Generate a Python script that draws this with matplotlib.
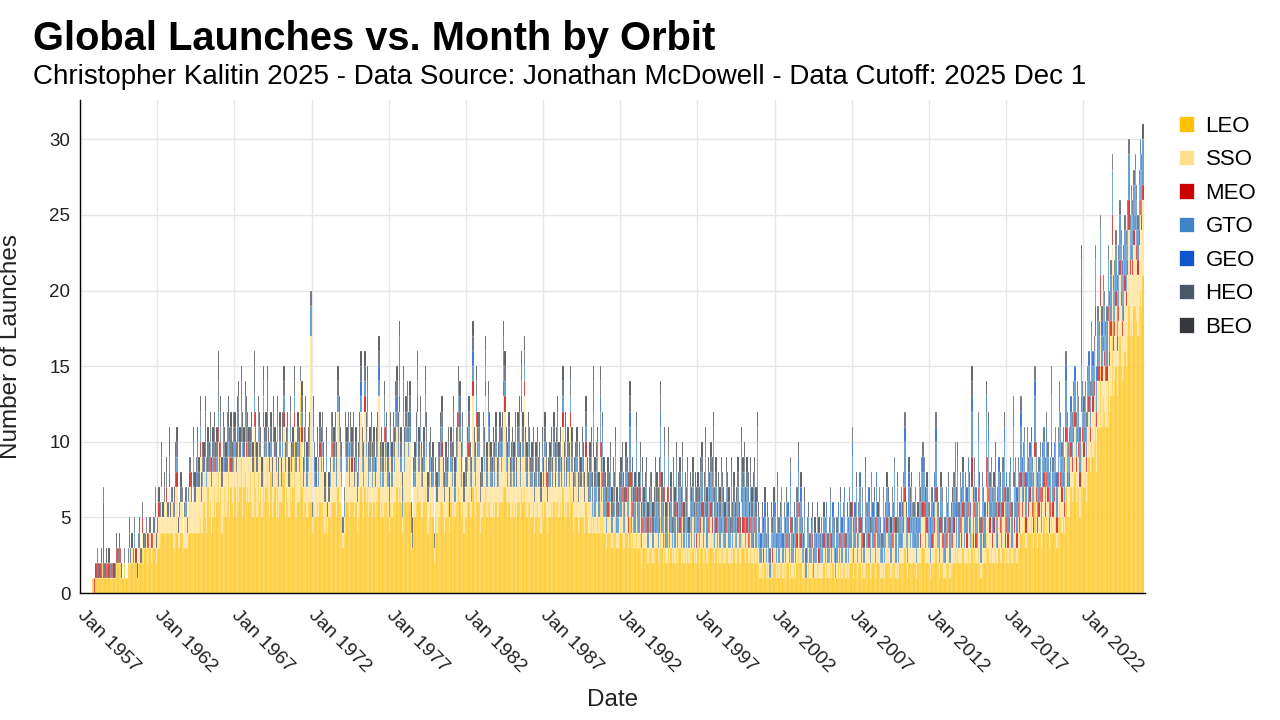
import numpy as np
import matplotlib.pyplot as plt
from matplotlib.patches import Patch

plt.rcParams['font.family'] = ['Liberation Sans', 'DejaVu Sans']

# monthly launch counts, one row per year (Jan..Dec), 1957 to 2025
leo = [
    0,0,0,0,0,0,0,0,0,1,1,0,
    1,1,1,1,1,2,1,1,1,1,1,1,
    1,1,1,1,2,2,2,2,1,1,2,1,
    1,2,2,2,2,2,2,2,1,2,2,2,
    3,2,3,3,2,3,3,2,3,3,3,2,
    3,3,4,4,4,4,4,4,4,4,4,4,
    3,3,4,4,3,3,4,4,3,3,3,3,
    4,4,4,4,4,4,4,4,4,5,4,4,
    6,5,4,7,5,6,4,5,7,5,6,8,
    6,7,4,5,7,5,6,8,5,7,6,5,
    7,5,8,6,7,9,5,7,8,6,7,6,
    8,6,5,9,7,5,8,6,7,5,9,6,
    7,9,6,5,8,5,6,7,5,8,5,6,
    6,8,8,5,7,6,5,9,6,7,10,5,
    5,6,6,13,7,5,6,6,5,6,6,6,
    4,6,5,5,6,5,6,6,6,5,4,6,
    4,5,5,6,6,6,6,5,7,6,6,5,
    3,4,6,6,6,5,6,6,6,5,6,4,
    5,6,7,6,5,7,6,7,5,6,6,5,
    6,5,6,6,7,5,6,5,6,6,6,5,
    4,6,5,6,6,6,7,6,7,6,4,7,
    6,6,6,6,6,3,3,5,5,6,7,6,
    6,5,5,6,7,6,4,5,6,5,5,2,
    5,4,5,5,6,6,5,4,5,5,6,4,
    6,5,6,5,6,6,7,6,5,6,4,5,
    5,6,6,5,5,7,6,5,7,6,6,4,
    5,6,6,7,5,6,6,5,5,6,5,6,
    5,5,6,6,6,7,7,6,5,6,5,5,
    6,5,6,5,6,6,5,7,6,7,6,5,
    6,6,5,5,6,4,5,6,5,5,4,6,
    5,6,5,4,5,5,6,5,6,5,6,6,
    5,6,5,7,5,6,5,6,5,7,6,4,
    5,5,5,4,5,5,5,5,4,6,5,4,
    4,5,4,6,4,4,5,4,6,4,5,4,
    4,3,4,4,4,3,4,4,5,3,3,4,
    4,4,3,3,4,4,3,5,3,4,3,3,
    4,3,3,4,2,3,3,3,3,2,3,3,
    3,2,3,3,3,2,3,5,3,2,4,2,
    2,4,2,3,2,3,2,3,2,3,3,2,
    3,2,3,2,3,2,3,2,3,2,3,2,
    3,2,3,3,2,3,3,2,3,3,3,3,
    4,2,3,2,3,2,3,3,2,2,3,3,
    2,2,3,2,3,2,2,3,2,2,4,3,
    3,2,3,2,2,3,2,2,3,2,4,2,
    1,1,2,1,2,1,2,1,1,2,1,2,
    2,1,2,1,2,2,1,2,1,2,2,1,
    2,1,1,2,1,2,3,2,2,1,1,2,
    1,1,2,1,1,2,1,1,1,2,1,1,
    1,1,2,1,2,1,1,2,1,2,1,1,
    1,2,1,2,1,2,2,1,2,1,2,2,
    3,1,2,2,1,2,2,1,2,1,2,2,
    2,2,1,2,2,2,1,2,2,2,1,1,
    2,1,2,2,2,2,1,2,2,2,1,2,
    1,2,2,2,2,3,2,1,2,2,2,2,
    2,2,1,2,2,2,3,3,3,2,2,2,
    2,1,2,2,2,3,2,2,1,2,2,1,
    1,2,2,2,1,2,2,2,3,2,3,2,
    2,2,3,2,2,2,3,2,2,4,2,3,
    2,2,3,2,1,2,2,2,4,3,3,2,
    3,2,2,3,2,2,3,2,2,3,3,2,
    3,2,3,3,2,4,3,3,2,3,3,4,
    4,4,5,3,5,4,4,5,4,3,6,4,
    3,4,4,3,4,5,4,5,4,3,4,6,
    4,4,5,3,5,6,5,4,5,4,7,5,
    5,5,7,6,7,8,6,7,7,5,10,7,
    7,8,6,8,9,8,10,9,10,13,8,11,
    11,15,11,13,12,11,11,14,12,13,18,13,
    14,15,13,15,17,15,14,15,16,15,17,19,
    17,18,17,19,19,18,17,19,20,19,21,0,
]

sso = [
    0,0,0,0,0,0,0,0,0,0,0,0,
    0,0,0,0,0,0,0,0,0,0,0,0,
    0,0,0,0,0,0,0,0,0,0,0,0,
    0,0,1,0,1,0,1,0,0,1,1,0,
    1,1,0,1,1,0,1,1,0,1,2,1,
    1,2,1,3,1,2,1,2,1,3,1,2,
    2,2,3,3,1,2,2,2,1,2,2,1,
    2,3,2,2,3,2,3,3,3,4,2,3,
    2,4,3,1,3,2,3,3,1,3,2,2,
    2,2,3,3,1,3,2,1,3,1,2,3,
    2,3,1,4,2,1,4,2,2,3,2,3,
    1,3,3,2,2,3,2,3,2,2,2,3,
    2,2,3,3,1,2,4,2,3,2,2,3,
    1,1,3,3,2,3,2,1,2,2,1,3,
    3,3,2,1,3,2,2,4,2,2,3,11,
    1,4,2,2,3,2,3,2,3,3,2,2,
    1,1,2,3,3,2,3,2,5,4,2,2,
    1,1,3,2,3,2,3,2,3,2,2,2,
    2,3,5,2,2,5,3,4,2,2,3,2,
    2,2,2,3,6,2,2,2,4,2,3,2,
    1,3,2,3,2,4,4,3,5,2,1,4,
    2,4,4,3,4,1,0,2,2,3,5,2,
    4,2,2,2,4,3,2,2,2,2,2,1,
    2,2,2,2,3,3,2,2,2,2,2,1,
    2,2,3,1,2,3,4,4,2,3,2,2,
    2,2,3,2,1,6,2,2,4,3,3,2,
    2,3,2,6,2,4,3,2,2,2,2,3,
    2,2,3,2,3,6,5,2,2,3,2,2,
    2,2,3,2,3,3,2,5,3,6,2,2,
    3,2,2,2,2,2,2,2,2,2,2,2,
    2,3,2,2,2,2,2,2,3,2,2,3,
    2,2,2,4,2,3,2,2,2,4,2,2,
    2,2,3,2,2,2,3,2,2,3,2,2,
    2,2,1,3,1,2,2,1,3,2,2,1,
    1,1,1,1,2,1,1,1,2,1,1,1,
    1,2,1,1,2,1,1,2,1,1,1,1,
    2,1,1,2,1,1,1,1,1,1,1,1,
    1,1,1,1,1,1,1,2,1,1,2,1,
    1,2,1,1,1,1,1,2,1,1,1,1,
    2,1,1,1,1,1,1,1,2,1,1,1,
    1,1,1,2,1,1,2,1,1,1,2,1,
    2,1,1,1,1,1,1,1,1,1,1,1,
    1,1,1,1,1,1,1,1,1,1,2,1,
    1,1,1,1,1,1,1,1,1,1,2,1,
    1,1,1,1,1,1,1,1,0,1,1,1,
    1,1,1,1,1,1,1,1,1,1,1,1,
    2,1,1,1,1,1,2,1,1,1,1,1,
    0,1,1,1,1,1,0,1,1,1,1,1,
    1,1,1,1,1,1,1,1,1,1,1,0,
    1,1,1,1,1,1,1,1,1,1,1,1,
    2,1,1,2,1,1,2,1,1,1,2,1,
    1,1,1,2,1,1,1,2,1,1,1,1,
    1,1,1,2,1,1,1,1,1,2,1,2,
    1,1,1,1,2,3,1,1,2,1,2,1,
    1,1,1,1,2,1,2,2,2,1,2,1,
    1,1,1,1,2,3,1,1,1,2,1,1,
    1,1,1,2,1,1,1,2,2,1,2,1,
    2,1,2,1,2,1,2,2,1,3,1,2,
    1,1,3,2,1,2,1,1,3,2,3,2,
    2,1,2,2,1,1,2,2,1,2,3,1,
    1,1,1,2,1,3,1,2,1,2,1,3,
    1,2,2,1,2,1,2,2,1,1,3,2,
    1,1,2,1,2,2,1,2,2,1,1,3,
    1,2,2,1,2,3,2,2,2,1,3,2,
    2,2,2,2,3,3,2,3,2,2,2,3,
    2,2,2,3,3,2,3,3,3,4,3,3,
    3,4,3,3,3,3,3,4,3,4,5,3,
    3,4,3,3,4,4,3,3,4,4,4,5,
    4,4,4,4,5,4,4,4,5,5,5,0,
]

meo = [
    0,0,0,0,0,0,0,0,0,0,0,1,
    1,1,0,1,0,0,5,0,1,0,1,0,
    0,1,0,0,1,0,0,1,0,0,0,0,
    0,0,1,0,0,0,0,1,0,0,1,0,
    1,0,0,0,0,1,0,0,1,0,1,0,
    0,1,0,1,0,0,0,1,0,1,0,0,
    0,0,1,1,0,0,0,0,0,0,0,0,
    0,1,0,0,1,0,0,1,0,1,0,0,
    0,1,0,0,0,1,0,0,1,0,0,1,
    0,1,0,0,0,0,1,0,0,1,0,0,
    0,0,1,0,0,1,0,0,0,1,0,0,
    0,0,0,1,0,0,0,1,0,0,1,0,
    0,1,0,0,0,0,1,0,0,0,0,0,
    0,0,1,0,0,0,0,0,0,0,1,0,
    0,0,0,0,1,0,0,0,0,0,0,0,
    0,0,0,0,0,0,1,0,0,0,0,0,
    0,0,0,0,1,0,0,0,0,0,0,0,
    0,0,0,0,0,0,0,1,0,0,0,0,
    0,0,0,0,0,1,0,0,0,0,0,0,
    0,0,0,0,0,0,0,0,1,0,0,0,
    0,0,0,0,0,1,0,0,1,0,0,0,
    0,0,1,0,0,0,0,0,0,0,1,0,
    0,0,0,0,1,0,0,0,0,0,0,0,
    0,0,0,0,0,1,0,0,0,0,0,0,
    0,0,1,0,0,0,1,0,0,0,0,0,
    0,0,1,0,0,1,0,0,1,0,0,0,
    0,0,0,1,0,0,0,0,0,0,0,0,
    0,0,0,0,0,1,1,0,0,0,0,0,
    0,0,0,0,0,1,0,1,0,1,0,0,
    0,0,0,0,0,0,0,0,0,0,0,0,
    0,0,1,0,0,0,0,0,0,1,0,1,
    0,0,0,1,0,0,0,0,0,1,0,0,
    0,0,0,0,0,0,0,0,0,1,0,0,
    0,1,0,1,0,0,1,0,1,0,1,0,
    0,0,1,0,0,0,1,0,0,0,0,0,
    0,1,0,0,1,0,1,1,0,1,0,0,
    1,0,0,1,0,1,0,0,1,0,0,1,
    0,0,0,1,0,0,1,1,0,0,1,0,
    0,1,0,0,0,1,0,1,0,0,1,0,
    1,0,0,0,1,0,0,0,0,0,0,1,
    0,0,1,1,0,0,1,0,1,0,1,1,
    1,0,1,0,0,0,1,0,0,0,1,0,
    0,0,1,0,0,0,0,1,0,0,1,1,
    1,0,1,1,0,1,0,1,1,0,1,0,
    0,0,0,1,0,0,0,0,0,0,1,0,
    0,0,1,0,0,1,0,0,0,1,0,0,
    1,0,0,0,0,1,1,0,1,0,0,0,
    0,0,0,0,0,1,0,0,0,0,1,0,
    0,0,1,0,0,0,0,1,0,0,0,0,
    0,0,0,1,0,0,1,0,0,0,1,0,
    1,0,0,1,0,0,1,0,1,0,1,0,
    0,1,0,1,0,1,0,1,0,1,0,0,
    1,0,0,1,0,0,0,1,0,1,0,1,
    0,0,1,0,1,1,0,0,1,0,1,0,
    0,1,0,0,1,1,1,1,1,0,1,0,
    0,0,1,0,1,1,0,0,0,1,1,0,
    0,1,0,1,0,0,1,1,1,0,1,0,
    1,1,1,0,1,1,1,1,0,2,1,1,
    1,0,1,1,0,1,1,0,2,1,1,1,
    1,1,1,1,0,1,1,1,0,1,1,1,
    1,1,1,1,0,1,1,1,1,1,1,1,
    1,1,1,1,1,1,1,1,1,1,1,1,
    1,1,1,0,1,1,1,1,1,1,1,1,
    1,1,1,1,1,1,1,1,1,1,1,1,
    0,1,1,1,1,1,1,1,1,1,1,1,
    1,1,1,1,1,1,1,1,1,2,1,1,
    1,2,1,1,1,1,1,1,1,1,2,1,
    1,1,1,1,1,1,1,1,1,1,1,2,
    1,1,1,1,1,1,1,1,1,1,1,0,
]

gto = [
    0,0,0,0,0,0,0,0,0,0,0,0,
    0,0,0,0,0,0,0,0,0,0,0,0,
    0,0,0,0,0,0,0,0,0,0,0,0,
    0,0,0,0,0,0,1,0,0,0,0,0,
    0,0,0,0,0,0,0,0,0,0,0,0,
    0,0,0,0,0,0,0,0,0,0,0,0,
    0,0,0,1,0,0,0,0,0,0,1,0,
    0,0,0,0,1,0,0,1,0,1,0,1,
    0,0,1,0,0,1,0,1,0,0,1,1,
    0,1,0,1,0,0,0,1,1,0,0,1,
    1,0,0,1,0,1,1,0,1,0,1,0,
    0,1,0,1,1,0,1,0,0,0,1,0,
    1,0,0,0,1,0,0,0,0,1,0,1,
    0,1,1,0,0,1,0,1,0,0,1,0,
    0,1,1,0,1,0,1,1,1,1,1,2,
    0,1,1,0,0,1,0,1,1,0,0,1,
    0,0,1,1,0,1,1,1,1,1,1,1,
    0,1,1,1,1,1,1,0,1,0,1,0,
    1,1,1,1,1,1,1,1,1,1,1,1,
    1,0,1,1,1,1,1,1,1,1,1,1,
    1,1,1,1,1,1,1,1,1,1,1,1,
    1,1,1,1,1,0,0,0,1,1,1,1,
    1,1,0,1,1,1,0,1,1,0,1,0,
    0,0,1,1,1,1,0,0,1,0,1,0,
    1,1,1,1,1,1,1,1,1,1,0,0,
    0,1,1,1,1,1,1,1,1,1,1,0,
    0,1,1,1,1,1,1,1,0,1,1,1,
    0,1,1,1,1,1,1,1,1,1,0,1,
    1,1,1,0,1,1,1,1,1,1,1,1,
    1,1,0,1,1,0,1,1,0,1,0,1,
    0,1,0,0,0,1,1,0,1,0,1,1,
    1,1,0,1,1,1,0,1,1,1,1,0,
    0,1,1,0,1,0,1,1,0,1,0,0,
    2,1,1,2,2,2,1,1,2,2,2,2,
    1,1,1,1,2,1,1,1,2,1,1,1,
    2,1,2,1,1,2,1,3,2,1,1,2,
    3,1,2,1,1,2,1,2,2,1,1,1,
    2,1,1,2,2,2,2,3,2,2,2,1,
    2,2,1,2,1,2,2,2,1,2,2,2,
    2,1,2,2,2,1,2,2,2,1,2,1,
    2,2,2,2,1,2,3,2,2,2,2,2,
    3,2,2,1,2,2,2,2,2,1,2,2,
    2,1,2,1,2,1,2,2,1,1,2,2,
    3,2,2,2,1,2,2,2,2,2,3,1,
    2,1,1,1,2,1,2,1,1,1,1,2,
    2,1,2,2,2,2,1,2,2,2,2,1,
    2,2,1,2,2,2,2,2,2,2,1,2,
    1,2,2,1,2,1,1,2,1,2,1,1,
    2,1,1,2,2,1,2,2,1,2,2,1,
    2,2,1,2,2,2,2,1,2,2,2,2,
    3,2,2,2,1,2,2,2,2,1,2,2,
    2,2,2,2,2,2,2,2,2,2,2,1,
    2,2,2,2,2,2,2,2,2,3,2,2,
    2,2,2,2,2,3,2,2,2,2,2,2,
    2,2,2,2,2,2,2,2,2,2,2,2,
    2,2,2,2,2,3,2,2,2,2,2,1,
    2,2,2,2,2,2,2,2,2,2,2,2,
    2,2,2,2,2,2,2,2,2,3,2,2,
    2,2,3,2,2,2,2,2,3,2,3,2,
    2,2,2,2,2,2,2,2,2,2,3,2,
    2,2,2,2,2,3,2,2,2,2,2,3,
    2,2,2,2,2,2,2,2,2,2,3,2,
    2,2,2,2,2,2,2,2,2,2,2,3,
    2,2,2,2,2,2,3,2,2,2,3,2,
    2,2,2,2,2,2,2,2,2,2,2,2,
    2,2,2,2,2,2,3,2,2,3,2,3,
    2,3,2,3,3,2,3,3,3,3,3,3,
    3,3,3,3,3,3,3,3,3,3,3,3,
    2,3,3,3,3,3,2,3,3,3,3,0,
]

geo = [
    0,0,0,0,0,0,0,0,0,0,0,0,
    0,0,0,0,0,0,0,0,0,0,0,0,
    0,0,0,0,0,0,0,0,0,0,0,0,
    0,0,0,0,0,0,0,0,0,0,0,0,
    0,0,0,0,0,0,0,0,0,0,0,0,
    0,0,0,0,0,0,0,0,0,0,0,0,
    0,0,0,0,0,0,0,0,0,0,0,0,
    0,0,0,0,0,0,1,0,0,0,0,0,
    0,0,0,0,0,0,0,0,0,0,0,0,
    0,0,0,0,1,0,0,0,0,0,0,0,
    0,0,1,0,0,0,0,0,0,0,0,0,
    0,0,0,0,0,0,0,0,0,0,0,0,
    0,1,0,0,0,0,0,0,0,0,0,0,
    0,0,0,0,0,0,0,0,0,0,0,0,
    0,0,0,0,0,0,0,0,0,0,0,0,
    0,0,1,0,0,0,0,0,0,0,0,0,
    0,0,0,0,0,0,0,0,0,0,0,0,
    0,0,0,0,0,1,0,0,0,0,0,0,
    0,0,1,0,0,0,0,1,0,0,0,0,
    0,0,0,0,1,0,0,0,0,0,0,0,
    0,0,0,0,0,0,1,0,1,0,0,1,
    0,0,0,0,1,0,0,0,0,0,0,0,
    0,0,0,0,0,0,0,0,0,0,0,0,
    0,0,0,0,0,0,0,0,0,0,0,0,
    0,0,0,0,0,0,0,1,0,0,0,0,
    0,0,0,0,0,1,0,0,0,0,0,0,
    0,0,0,0,0,1,0,0,0,0,0,0,
    0,0,0,0,0,1,0,0,0,0,0,0,
    0,0,0,0,0,0,0,0,0,0,0,0,
    0,0,0,0,0,0,0,0,0,0,0,0,
    0,0,0,0,0,0,0,0,0,0,0,0,
    0,0,0,0,0,0,0,0,0,0,0,0,
    0,0,0,0,0,0,0,0,0,0,0,0,
    0,0,0,1,0,0,0,0,1,0,0,0,
    0,0,0,0,0,0,0,0,0,0,0,0,
    0,0,0,0,0,0,0,1,0,0,0,0,
    0,0,0,0,0,0,0,0,0,0,0,0,
    0,0,0,0,0,0,0,1,0,0,0,0,
    0,0,0,0,0,0,0,0,0,0,0,0,
    0,0,0,0,0,0,0,0,0,0,0,0,
    0,0,0,0,0,0,0,0,0,0,0,0,
    0,0,0,0,0,0,0,0,0,0,0,0,
    0,0,0,0,0,0,0,0,0,0,0,0,
    0,0,0,0,0,0,0,0,0,0,0,0,
    0,1,1,0,1,0,0,1,0,1,0,1,
    0,1,1,0,0,0,1,0,0,0,1,0,
    1,0,0,0,1,0,1,0,1,0,0,1,
    1,0,0,0,1,0,0,0,1,0,0,0,
    0,1,0,0,1,0,1,0,0,1,0,0,
    0,1,0,0,1,0,1,0,0,1,0,0,
    1,0,1,0,0,0,1,0,0,0,1,0,
    0,1,0,0,1,0,0,1,0,0,1,0,
    0,1,0,0,1,0,0,0,1,0,0,0,
    0,1,0,0,0,1,0,0,1,1,0,0,
    0,0,1,0,0,0,1,1,0,1,0,0,
    0,1,0,0,1,1,1,0,0,0,0,0,
    0,0,1,0,0,1,0,0,1,1,1,0,
    0,1,0,0,0,1,1,0,1,1,0,0,
    1,0,1,0,0,0,1,1,1,0,1,0,
    1,0,0,1,0,0,1,0,1,0,1,0,
    1,0,0,1,0,1,0,0,1,0,1,1,
    1,0,0,1,0,0,1,0,1,0,1,0,
    1,0,0,0,1,0,1,1,0,0,1,1,
    0,1,0,1,0,1,1,0,1,0,1,1,
    0,0,1,0,0,1,0,1,0,0,6,0,
    0,1,0,0,1,0,0,1,0,0,1,0,
    0,0,1,0,0,0,0,0,1,0,0,0,
    0,0,0,0,0,0,1,0,0,0,0,0,
    0,0,0,0,0,0,0,0,0,0,0,0,
]

heo = [
    0,0,0,0,0,0,0,0,0,0,0,0,
    0,1,0,0,1,0,1,1,0,1,0,1,
    1,0,0,1,0,1,1,0,0,0,1,0,
    0,1,0,1,0,1,1,0,0,1,0,1,
    1,0,1,1,0,0,1,0,0,1,1,0,
    1,0,1,1,0,1,0,1,1,1,0,1,
    1,1,1,1,0,1,1,1,0,1,1,1,
    1,1,1,0,1,1,1,1,1,1,1,1,
    1,2,1,2,1,1,1,1,2,1,1,2,
    1,1,1,2,1,1,2,1,1,2,1,2,
    1,1,1,2,1,2,1,1,2,2,1,1,
    1,1,1,2,1,1,1,1,1,1,1,1,
    1,1,1,1,1,1,1,1,1,1,1,1,
    1,1,1,1,1,1,1,1,1,1,1,1,
    1,1,1,1,1,1,1,1,1,1,1,1,
    1,1,1,1,1,1,1,1,1,1,1,1,
    1,1,1,1,1,1,1,1,1,1,1,1,
    1,1,1,1,1,1,1,1,1,1,1,1,
    1,1,1,1,1,1,1,1,1,1,1,1,
    1,1,1,1,1,1,1,1,1,1,1,1,
    1,1,1,1,1,1,1,1,2,1,1,1,
    1,1,1,1,1,1,1,1,1,1,1,1,
    1,1,1,1,1,1,1,1,1,1,1,1,
    1,1,1,1,1,1,1,1,1,1,1,1,
    1,1,1,1,1,1,1,1,1,1,1,1,
    1,1,1,1,1,1,1,1,1,1,1,1,
    1,1,1,1,1,1,1,1,1,1,1,1,
    1,1,1,1,1,1,1,1,1,1,1,1,
    1,1,1,1,1,1,1,1,1,1,1,1,
    1,1,1,1,1,1,1,1,1,1,1,1,
    1,1,1,1,1,1,1,1,1,1,1,1,
    1,1,1,1,1,1,1,1,1,1,1,1,
    1,1,1,1,1,1,1,1,1,1,1,1,
    1,1,1,1,1,1,1,1,1,1,1,1,
    1,1,1,1,1,1,1,1,1,1,0,1,
    1,1,1,1,1,1,1,1,1,1,1,1,
    1,1,1,1,1,1,1,1,1,1,1,1,
    1,1,1,1,1,1,1,1,1,1,1,1,
    1,1,1,1,0,1,1,1,1,1,1,1,
    1,1,1,1,1,0,1,1,1,1,1,1,
    1,1,1,1,1,1,1,1,1,1,1,1,
    1,1,1,1,1,1,1,1,1,1,1,1,
    1,0,1,1,1,1,1,1,1,0,1,1,
    1,1,1,1,1,1,1,1,1,1,1,1,
    1,0,0,0,0,1,0,1,1,0,0,0,
    1,0,0,1,0,1,0,1,0,0,0,1,
    1,1,0,0,0,1,0,1,0,1,0,0,
    0,1,0,1,0,0,1,0,0,0,0,1,
    1,0,0,1,0,1,0,1,0,0,1,0,
    1,0,1,0,0,1,0,1,0,0,1,0,
    1,1,0,0,1,1,0,0,1,0,0,1,
    1,0,0,1,0,0,1,0,0,1,0,1,
    1,0,1,0,0,1,0,1,0,1,0,0,
    1,0,1,0,1,1,0,1,0,0,0,1,
    1,1,0,0,1,0,0,1,1,0,0,1,
    1,0,1,0,0,1,0,1,0,0,1,1,
    1,1,0,0,1,0,0,1,1,0,0,1,
    1,0,0,1,1,0,0,0,0,1,0,1,
    0,1,1,0,1,1,0,0,0,1,0,1,
    0,1,0,0,1,1,0,0,0,1,0,0,
    0,1,1,0,1,1,0,1,0,1,0,1,
    0,1,1,0,1,1,0,0,0,1,1,1,
    0,1,1,1,0,1,0,1,1,1,0,1,
    1,0,1,0,1,1,0,1,0,1,1,1,
    1,1,0,1,1,0,1,0,1,1,1,1,
    1,0,1,1,0,1,1,0,1,1,0,1,
    1,1,1,1,1,1,1,1,0,1,1,1,
    1,1,1,1,1,1,0,1,1,1,1,1,
    1,1,1,1,1,1,1,1,1,1,0,0,
]

beo = [
    0,0,0,0,0,0,0,0,0,0,0,0,
    0,0,1,0,1,0,0,0,1,0,1,0,
    0,0,1,0,1,0,1,0,1,0,0,0,
    0,0,1,0,1,0,0,0,1,0,1,0,
    0,1,0,0,1,0,0,1,0,0,0,1,
    0,1,0,1,1,1,0,1,0,2,1,0,
    0,1,1,1,1,0,1,0,0,0,0,0,
    0,0,1,0,1,1,0,1,1,1,1,1,
    1,1,0,1,1,1,1,1,1,1,1,2,
    1,1,1,1,1,1,1,2,1,1,1,1,
    1,1,1,1,1,1,1,1,1,1,1,1,
    1,1,1,1,1,1,1,1,1,1,1,1,
    1,1,1,1,1,1,1,1,1,1,1,1,
    1,1,1,1,1,1,1,1,1,1,1,1,
    1,1,1,0,1,1,1,1,1,1,1,0,
    0,1,0,1,1,0,1,1,1,1,1,1,
    0,1,0,1,1,1,1,1,1,1,1,1,
    0,0,1,1,1,0,1,1,1,1,1,1,
    1,1,1,1,1,1,1,1,1,1,1,1,
    1,1,1,1,1,1,1,1,1,1,1,1,
    1,1,1,1,1,1,1,1,1,1,1,1,
    1,1,1,1,1,1,1,1,1,1,1,1,
    1,1,1,1,1,1,1,1,1,1,1,0,
    1,1,1,1,1,1,1,1,1,1,1,1,
    1,1,1,1,1,1,1,1,1,1,1,1,
    1,1,1,1,1,1,1,1,1,1,1,1,
    1,1,1,1,1,1,1,1,1,1,1,1,
    1,1,1,1,1,1,1,1,1,1,1,1,
    1,1,1,1,1,1,1,1,1,1,1,1,
    1,1,1,1,1,1,1,1,1,1,1,1,
    1,1,1,1,1,1,1,1,1,1,1,1,
    1,1,1,1,1,1,1,1,1,1,1,1,
    1,1,1,1,1,1,1,1,1,1,1,1,
    1,1,1,1,1,1,1,1,1,1,1,1,
    1,1,1,1,1,1,1,1,1,1,1,1,
    1,1,1,1,1,1,1,1,1,1,1,1,
    1,1,1,1,1,1,1,1,1,1,1,1,
    1,1,1,1,1,1,1,1,1,1,1,1,
    1,1,1,1,1,1,1,1,1,1,1,1,
    1,1,1,1,1,1,1,1,1,1,1,1,
    1,1,1,1,1,1,1,1,1,1,1,1,
    1,1,1,1,1,1,1,1,1,1,1,1,
    1,1,1,1,1,1,1,1,1,1,1,1,
    1,1,1,1,1,1,1,1,1,1,1,1,
    0,0,1,1,1,0,1,0,0,1,1,1,
    0,0,1,0,1,0,0,0,1,1,0,0,
    0,0,1,1,0,0,1,0,1,0,1,1,
    0,0,1,0,0,1,0,1,0,1,1,0,
    0,0,1,0,0,0,0,0,1,0,0,1,
    0,0,0,1,0,0,0,0,1,0,0,1,
    0,0,0,1,0,0,0,1,0,1,1,0,
    0,0,1,0,0,1,0,0,1,0,0,0,
    0,0,0,1,1,0,1,0,0,0,1,1,
    0,0,0,1,0,0,1,0,1,1,1,0,
    0,0,0,1,0,1,0,0,0,1,1,0,
    0,0,0,1,0,0,1,0,1,1,0,0,
    0,0,0,1,0,0,1,0,0,1,1,0,
    0,0,1,0,0,0,0,1,0,1,1,0,
    0,0,0,1,0,0,0,0,1,0,1,0,
    0,0,1,1,0,0,0,1,0,0,1,1,
    0,0,0,0,0,0,1,0,0,0,0,0,
    0,0,0,0,0,0,0,1,0,0,0,0,
    0,0,0,0,0,0,0,0,0,0,0,0,
    0,0,0,0,0,0,0,0,0,0,0,0,
    0,0,0,0,0,0,0,0,0,0,1,0,
    0,0,0,0,0,0,0,0,0,0,0,0,
    0,0,0,0,0,0,0,0,0,0,0,0,
    0,0,0,0,0,0,0,0,0,0,0,0,
    0,0,0,0,0,0,0,0,0,0,1,0,
]

orbits = ['LEO', 'SSO', 'MEO', 'GTO', 'GEO', 'HEO', 'BEO']
colors = ['#FFC000', '#FFE08A', '#CC0000', '#3D85C6', '#1155CC', '#4A5868', '#35393D']
tick_years = [1957, 1962, 1967, 1972, 1977, 1982, 1987, 1992, 1997, 2002, 2007, 2012, 2017, 2022]

# months since Jan 1957, bars centred mid-month
x = np.arange(len(leo)) + 0.5

fig = plt.figure(figsize=(12.8, 7.2), dpi=100)
ax = fig.add_axes([80/1280, 1 - 593/720, 1065/1280, 493/720])

bottom = np.zeros(len(x))
for name, vals, c in zip(orbits, [leo, sso, meo, gto, geo, heo, beo], colors):
    vals = np.array(vals, dtype=float)
    ax.bar(x, vals, width=1.0, bottom=bottom, color=c, alpha=0.85,
           edgecolor='white', linewidth=0.15)
    bottom += vals

ax.set_xlim(0, 828)
ax.set_ylim(0, 32.6)
ax.set_yticks(range(0, 31, 5))
ax.set_xticks([(y - 1957) * 12 for y in tick_years])
ax.set_xticklabels([f'Jan {y}' for y in tick_years], rotation=-45,
                   ha='left', va='center', rotation_mode='anchor')
ax.tick_params(axis='both', length=0, colors='#222222')
ax.tick_params(axis='x', labelsize=14, pad=14)
ax.tick_params(axis='y', labelsize=13.5, pad=7)

ax.grid(True, color='#e6e6e6', linewidth=1)
ax.set_axisbelow(True)
for s in ['top', 'right']:
    ax.spines[s].set_visible(False)
for s in ['left', 'bottom']:
    ax.spines[s].set_color('black')
    ax.spines[s].set_linewidth(1)

ax.set_ylabel('Number of Launches', fontsize=17.5, color='#222222')
ax.yaxis.set_label_coords(-0.0545, 0.5)
ax.set_xlabel('Date', fontsize=17.5, color='#222222')
ax.xaxis.set_label_coords(0.5, -0.195)

fig.text(33/1280, 1 - 39/720, 'Global Launches vs. Month by Orbit',
         fontsize=28.7, fontweight='bold', va='center')
fig.text(33/1280, 1 - 77/720,
         'Christopher Kalitin 2025 - Data Source: Jonathan McDowell - Data Cutoff: 2025 Dec 1',
         fontsize=20, va='center')

handles = [Patch(facecolor=c, edgecolor='white', linewidth=0.5) for c in colors]
fig.legend(handles, orbits, loc='upper left', bbox_to_anchor=(1170/1280, 1 - 107/720),
           frameon=False, fontsize=16, handlelength=0.7, handleheight=0.7,
           handletextpad=0.5, labelspacing=0.56, borderaxespad=0)

fig.savefig('out.png', dpi=100)
